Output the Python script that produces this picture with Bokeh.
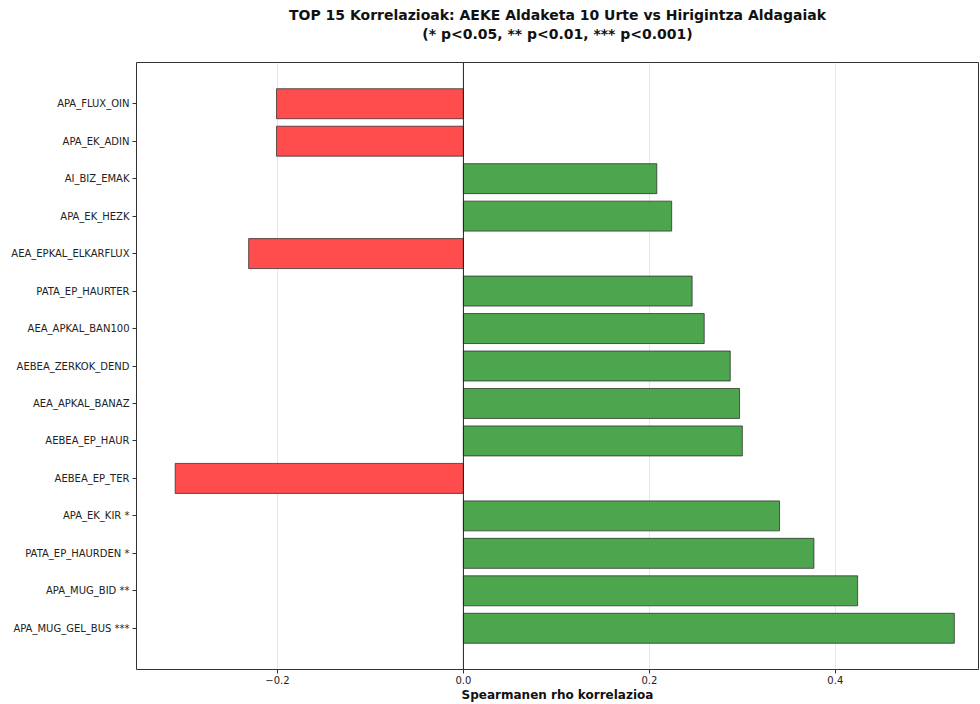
from bokeh.plotting import figure
from bokeh.models import (FactorRange, Range1d, Span, Title, LinearAxis, FixedTicker,
                          CustomJSTickFormatter, ColumnDataSource)
from bokeh.embed import file_html
from bokeh.resources import INLINE

# Top-to-bottom order as shown in the chart
categories = [
    "APA_FLUX_OIN", "APA_EK_ADIN", "AI_BIZ_EMAK", "APA_EK_HEZK",
    "AEA_EPKAL_ELKARFLUX", "PATA_EP_HAURTER", "AEA_APKAL_BAN100",
    "AEBEA_ZERKOK_DEND", "AEA_APKAL_BANAZ", "AEBEA_EP_HAUR", "AEBEA_EP_TER",
    "APA_EK_KIR *", "PATA_EP_HAURDEN *", "APA_MUG_BID **", "APA_MUG_GEL_BUS ***",
]
rho = [-0.201, -0.201, 0.208, 0.224, -0.231, 0.246, 0.259, 0.287, 0.297,
       0.300, -0.310, 0.340, 0.377, 0.424, 0.528]
x_ticks = [-0.2, 0.0, 0.2, 0.4]
title_main = "TOP 15 Korrelazioak: AEKE Aldaketa 10 Urte vs Hirigintza Aldagaiak"
title_sub = "(* p<0.05, ** p<0.01, *** p<0.001)"

FONT = "DejaVu Sans"
pos_color = "#4da64d"
neg_color = "#ff4d4d"

bottom_up = categories[::-1]
colors = [pos_color if v >= 0 else neg_color for v in rho]
src = ColumnDataSource(dict(cat=categories, val=rho, color=colors))

yr = FactorRange(factors=bottom_up, range_padding=1.2 / 15, range_padding_units="percent")
xr = Range1d(-0.3516, 0.554)

W, H = 980, 704
p = figure(width=W, height=H, y_range=yr, x_range=xr,
           output_backend="svg", toolbar_location=None,
           min_border_left=136, min_border_right=2,
           min_border_top=62, min_border_bottom=34)
p.title = None

p.hbar(y="cat", left=0, right="val", height=0.8, source=src,
       fill_color="color", fill_alpha=1.0,
       line_color="#222222", line_alpha=0.7, line_width=1)

p.add_layout(Span(location=0, dimension="height", line_color="#222222", line_width=1))

# second title line carried by a tick-less axis above the frame
sub_axis = LinearAxis(ticker=FixedTicker(ticks=[]), axis_label=title_sub,
                      axis_line_color=None, major_tick_out=0, major_tick_in=0,
                      minor_tick_out=0, minor_tick_in=0, major_label_standoff=0,
                      axis_label_standoff=21, axis_label_text_font=FONT,
                      axis_label_text_font_size="14px", axis_label_text_font_style="bold",
                      axis_label_text_color="#111111")
p.add_layout(sub_axis, "above")
p.add_layout(Title(text=title_main, align="center", text_font=FONT, text_font_size="14px",
                   text_font_style="bold", text_color="#111111", standoff=0), "above")

p.outline_line_color = "#333333"
p.outline_line_width = 1
p.outline_line_alpha = 1.0

p.xgrid.ticker = FixedTicker(ticks=x_ticks)
p.xgrid.grid_line_color = "#b0b0b0"
p.xgrid.grid_line_alpha = 0.3
p.ygrid.grid_line_color = None

xa = p.xaxis[0] if p.below else None
xa = p.below[0]
xa.ticker = FixedTicker(ticks=x_ticks)
xa.formatter = CustomJSTickFormatter(code="return tick.toFixed(1).replace('-', '\u2212');")
xa.axis_label = "Spearmanen rho korrelazioa"
xa.axis_label_text_font = FONT
xa.axis_label_text_font_size = "12px"
xa.axis_label_text_font_style = "bold"
xa.axis_label_text_color = "#111111"
xa.axis_label_standoff = 1

for ax in (xa, p.yaxis[0]):
    ax.axis_line_color = None
    ax.major_tick_in = 0
    ax.major_tick_out = 4
    ax.major_tick_line_color = "#333333"
    ax.minor_tick_line_color = None
    ax.major_label_text_font = FONT
    ax.major_label_text_font_size = "10px"
    ax.major_label_text_color = "#222222"
    ax.major_label_standoff = 3
xa.major_label_standoff = 2

p.background_fill_color = "white"
p.border_fill_color = "white"

open("out.html", "w").write(file_html(p, INLINE))
